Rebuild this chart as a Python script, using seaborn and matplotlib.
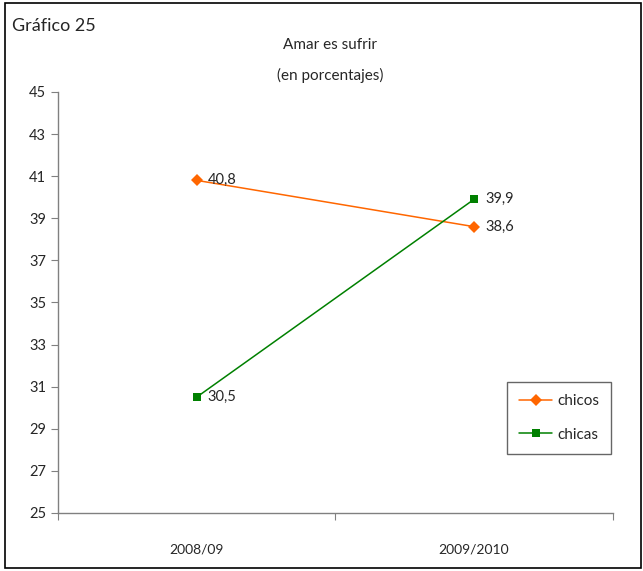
import pandas as pd
import matplotlib.pyplot as plt
import seaborn as sns
from matplotlib.patches import Rectangle

# datos
cursos = ['2008/09', '2009/2010']
chicos = [40.8, 38.6]
chicas = [30.5, 39.9]
etiquetas = ['40,8', '38,6']
etiquetas_chicas = ['30,5', '39,9']

df = pd.DataFrame({
    'curso': cursos * 2,
    'valor': chicos + chicas,
    'grupo': ['chicos'] * 2 + ['chicas'] * 2,
})

sns.set_style('white')
plt.rcParams['font.family'] = ['Lato', 'DejaVu Sans']

fig = plt.figure(figsize=(6.43, 5.71), dpi=100)
ax = fig.add_axes([0.090, 0.1016, 0.863, 0.7374])

colores = {'chicos': '#FF6600', 'chicas': '#008000'}
sns.lineplot(data=df, x='curso', y='valor', hue='grupo', style='grupo',
             markers={'chicos': 'D', 'chicas': 's'}, dashes=False,
             palette=colores, linewidth=1.1, markersize=6,
             markeredgewidth=0, ax=ax)

for i, (v, t) in enumerate(zip(chicos, etiquetas)):
    ax.annotate(t, (i, v), xytext=(8, 0), textcoords='offset points',
                va='center', fontsize=10.5)
for i, (v, t) in enumerate(zip(chicas, etiquetas_chicas)):
    ax.annotate(t, (i, v), xytext=(8, 0), textcoords='offset points',
                va='center', fontsize=10.5)

ax.set_xlim(-0.5, 1.5)
ax.set_ylim(25, 45)
ax.set_yticks(range(25, 46, 2))
ax.set_xticks([-0.5, 0.5, 1.5])
ax.set_xticklabels([])
ax.set_xticks([0, 1], minor=True)
ax.set_xticklabels(cursos, minor=True, fontsize=10)
ax.tick_params(axis='x', which='minor', length=0, pad=22, bottom=True)
ax.tick_params(axis='x', which='major', direction='out', length=5,
               color='#808080', bottom=True)
ax.tick_params(axis='y', direction='out', length=5, color='#808080',
               labelsize=10.5, left=True)
ax.set_xlabel('')
ax.set_ylabel('')
for s in ['top', 'right']:
    ax.spines[s].set_visible(False)
for s in ['left', 'bottom']:
    ax.spines[s].set_color('#808080')
    ax.spines[s].set_linewidth(1)

leg = ax.legend(loc='upper left', bbox_to_anchor=(0.795, 0.33), frameon=True,
                fancybox=False, edgecolor='#404040', fontsize=11,
                handlelength=2.2, borderpad=0.8, labelspacing=1.3,
                handletextpad=0.3)
leg.get_frame().set_linewidth(1)
leg.set_title(None)

fig.text(330 / 643, 1 - 45 / 571, 'Amar es sufrir', ha='center', va='center', fontsize=11)
fig.text(330 / 643, 1 - 75 / 571, '(en porcentajes)', ha='center', va='center', fontsize=11)
fig.text(12 / 643, 1 - 26 / 571, 'Gráfico 25', ha='left', va='center', fontsize=13)

fig.patches.append(Rectangle((5 / 643, 3 / 571), 636 / 643, 565 / 571,
                             transform=fig.transFigure, fill=False,
                             edgecolor='black', linewidth=1.2))

fig.savefig('out.png', dpi=100)
